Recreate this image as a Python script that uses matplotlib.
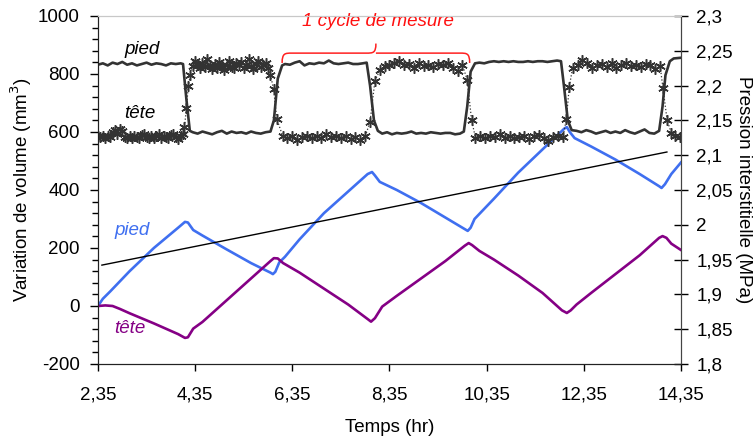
import numpy as np
import matplotlib
matplotlib.use("Agg")
import matplotlib.pyplot as plt
from matplotlib.path import Path
from matplotlib.patches import PathPatch
from matplotlib.ticker import FixedLocator, MultipleLocator

plt.rcParams['font.family'] = ['Liberation Sans', 'DejaVu Sans']

# ---------------- data ----------------
# volume variation (mm3), left axis
pied_t = [2.35, 2.45, 2.6, 3.0, 3.5, 4.0, 4.14, 4.2, 4.31, 4.5, 5.0, 5.5, 5.9, 5.95, 6.0, 6.08, 6.2,
          6.5, 7.0, 7.5, 7.9, 7.99, 8.05, 8.15, 8.5, 9.0, 9.5, 9.9, 9.96, 10.02, 10.1, 10.5, 11.0,
          11.5, 11.95, 12.0, 12.06, 12.16, 12.5, 13.0, 13.5, 13.9, 13.95, 14.02, 14.15, 14.35]
pied_v = [0, 25, 50, 120, 200, 270, 290, 288, 262, 243, 195, 148, 115, 110, 118, 150, 170,
          230, 320, 395, 455, 462, 450, 428, 400, 355, 305, 265, 259, 270, 300, 370, 460,
          540, 612, 617, 600, 579, 550, 505, 455, 413, 407, 420, 455, 495]

tete_t = [2.35, 2.5, 2.65, 2.8, 3.0, 3.5, 4.0, 4.14, 4.2, 4.31, 4.5, 5.0, 5.5, 5.9, 5.97, 6.05,
          6.16, 6.5, 7.0, 7.5, 7.9, 7.97, 8.05, 8.2, 8.5, 9.0, 9.5, 9.9, 9.98, 10.05, 10.2, 10.5,
          11.0, 11.5, 11.9, 12.0, 12.08, 12.2, 12.5, 13.0, 13.5, 13.9, 13.97, 14.05, 14.15, 14.35]
tete_v = [0, 2, 0, -10, -25, -60, -97, -110, -108, -78, -55, 20, 95, 155, 165, 164,
          148, 115, 60, 5, -45, -54, -42, -2, 35, 95, 155, 208, 217, 210, 190, 160,
          105, 45, -15, -24, -15, 5, 45, 110, 175, 235, 241, 235, 215, 193]

trend_t = [2.43, 14.06]
trend_v = [141, 531]

# pore pressure (MPa), right axis - continuous line
press_t = [2.35, 2.45, 2.55, 2.65, 2.75, 2.85, 2.95, 3.05, 3.15, 3.25, 3.35, 3.45, 3.55, 3.65, 3.75,
           3.85, 3.95, 4.05, 4.10, 4.17, 4.24,
           4.30, 4.40, 4.50, 4.60, 4.70, 4.80, 4.90, 5.00, 5.10, 5.20, 5.30, 5.40, 5.50, 5.60, 5.70,
           5.80, 5.90, 5.97, 6.05, 6.14,
           6.20, 6.30, 6.40, 6.50, 6.60, 6.70, 6.80, 6.90, 7.00, 7.10, 7.20, 7.30, 7.40, 7.50, 7.60,
           7.70, 7.80, 7.88, 7.95, 8.03, 8.11,
           8.20, 8.30, 8.40, 8.50, 8.60, 8.70, 8.80, 8.90, 9.00, 9.10, 9.20, 9.30, 9.40, 9.50, 9.60,
           9.70, 9.80, 9.88, 9.95, 10.02, 10.11,
           10.20, 10.30, 10.40, 10.50, 10.60, 10.70, 10.80, 10.90, 11.00, 11.10, 11.20, 11.30, 11.40,
           11.50, 11.60, 11.70, 11.80, 11.88, 11.94, 12.02, 12.10,
           12.20, 12.30, 12.40, 12.50, 12.60, 12.70, 12.80, 12.90, 13.00, 13.10, 13.20, 13.30, 13.40,
           13.50, 13.60, 13.70, 13.80, 13.90, 13.97, 14.03, 14.12, 14.20, 14.35]
press_p = [2.230, 2.232, 2.229, 2.233, 2.231, 2.234, 2.230, 2.232, 2.229, 2.231, 2.233, 2.230, 2.232,
           2.231, 2.229, 2.232, 2.231, 2.232, 2.231, 2.180, 2.135,
           2.133, 2.131, 2.134, 2.132, 2.130, 2.133, 2.135, 2.131, 2.134, 2.132, 2.133, 2.131, 2.134,
           2.132, 2.131, 2.133, 2.134, 2.150, 2.210, 2.229,
           2.231, 2.230, 2.233, 2.235, 2.229, 2.232, 2.231, 2.233, 2.232, 2.236, 2.232, 2.231, 2.232,
           2.233, 2.231, 2.231, 2.232, 2.233, 2.200, 2.150, 2.135,
           2.131, 2.133, 2.130, 2.132, 2.131, 2.132, 2.134, 2.131, 2.132, 2.131, 2.133, 2.132, 2.131,
           2.132, 2.132, 2.130, 2.131, 2.134, 2.170, 2.220, 2.232,
           2.233, 2.232, 2.234, 2.235, 2.234, 2.235, 2.234, 2.235, 2.234, 2.234, 2.235, 2.234, 2.235,
           2.235, 2.234, 2.235, 2.236, 2.235, 2.200, 2.150, 2.136,
           2.135, 2.133, 2.136, 2.134, 2.131, 2.133, 2.135, 2.132, 2.134, 2.132, 2.136, 2.133, 2.131,
           2.134, 2.137, 2.132, 2.131, 2.135, 2.170, 2.215, 2.235, 2.239, 2.240]

# pore pressure (MPa), right axis - measured points (stars)
stars_segments = [
    # (start time, step, values)
    (2.35, 0.05, [2.127, 2.126, 2.128, 2.125, 2.127, 2.126, 2.133, 2.136, 2.131, 2.138, 2.135, 2.126,
                  2.124, 2.127, 2.125, 2.128, 2.126, 2.124, 2.129, 2.131, 2.126, 2.125, 2.128, 2.124,
                  2.127, 2.130, 2.125, 2.128, 2.126, 2.124, 2.129, 2.131, 2.126, 2.123, 2.127, 2.131]),
    (4.13, 0.04, [2.140, 2.168, 2.200, 2.215]),
    (4.30, 0.05, [2.228, 2.236, 2.230, 2.225, 2.233, 2.227, 2.238, 2.229, 2.224, 2.231, 2.226, 2.234,
                  2.228, 2.223, 2.230, 2.236, 2.227, 2.225, 2.232, 2.229, 2.234, 2.226, 2.230, 2.238,
                  2.228, 2.224, 2.231, 2.235, 2.227, 2.229, 2.233, 2.226]),
    (5.90, 0.065, [2.215, 2.195, 2.152]),
    (6.15, 0.10, [2.128, 2.124, 2.127, 2.122, 2.126, 2.128, 2.125, 2.127, 2.124, 2.130, 2.126, 2.128,
                  2.125, 2.127, 2.123, 2.126, 2.122, 2.127]),
    (7.95, 0.10, [2.148, 2.207]),
    (8.15, 0.10, [2.222, 2.228, 2.230, 2.233, 2.236, 2.229, 2.231, 2.226, 2.232, 2.228, 2.230, 2.227,
                  2.231, 2.229, 2.233, 2.226, 2.221, 2.230]),
    (9.95, 0.09, [2.208, 2.150]),
    (10.12, 0.10, [2.125, 2.127, 2.124, 2.128, 2.126, 2.130, 2.125, 2.127, 2.124, 2.126, 2.128, 2.123,
                   2.127, 2.129, 2.125, 2.120, 2.126, 2.128, 2.126]),
    (11.99, 0.06, [2.152, 2.198]),
    (12.12, 0.10, [2.226, 2.230, 2.237, 2.232, 2.225, 2.229, 2.231, 2.227, 2.232, 2.226, 2.229, 2.233,
                   2.228, 2.230, 2.227, 2.231, 2.229, 2.224, 2.228]),
    (13.98, 0.085, [2.196, 2.150, 2.132, 2.128, 2.126]),
]

x_ticks = [2.35, 4.35, 6.35, 8.35, 10.35, 12.35, 14.35]
x_labels = ["2,35", "4,35", "6,35", "8,35", "10,35", "12,35", "14,35"]
yl_ticks = [-200, 0, 200, 400, 600, 800, 1000]
yl_labels = ["-200", "0", "200", "400", "600", "800", "1000"]
yr_ticks = [1.8, 1.85, 1.9, 1.95, 2.0, 2.05, 2.1, 2.15, 2.2, 2.25, 2.3]
yr_labels = ["1,8", "1,85", "1,9", "1,95", "2", "2,05", "2,1", "2,15", "2,2", "2,25", "2,3"]

# brace annotation (cycle), in data units
brace_t0, brace_tm, brace_t1 = 6.14, 8.07, 10.0
brace_v_end, brace_v_bar, brace_v_tip = 838, 872, 905

# ---------------- plot ----------------
BLUE = "#3f6ff0"
PURPLE = "#850085"
DARK = "#333333"
FS = 13.5

fig = plt.figure(figsize=(7.56, 4.37), dpi=100)
ax = fig.add_axes([98 / 756, 1 - 364 / 437, 583 / 756, 348 / 437])
ax2 = ax.twinx()

ax.plot(pied_t, pied_v, color=BLUE, lw=1.9, zorder=3)
ax.plot(tete_t, tete_v, color=PURPLE, lw=1.9, zorder=3)
ax.plot(trend_t, trend_v, color="black", lw=1.0, zorder=3)

ax2.plot(press_t, press_p, color=DARK, lw=1.9, zorder=2)
st_t, st_p = [], []
for t0, dt, vals in stars_segments:
    for i, v in enumerate(vals):
        st_t.append(t0 + i * dt)
        st_p.append(v)
ax2.plot(st_t, st_p, color=DARK, lw=0.9, ls=":", marker=(6, 2, 0), ms=7.5, mew=1.1,
         mec=DARK, zorder=2)

ax.set_xlim(2.35, 14.35)
ax.set_ylim(-200, 1000)
ax2.set_ylim(1.8, 2.3)

ax.xaxis.set_major_locator(FixedLocator(x_ticks))
ax.set_xticklabels(x_labels, fontsize=FS)
ax.yaxis.set_major_locator(FixedLocator(yl_ticks))
ax.set_yticklabels(yl_labels, fontsize=FS)
ax.yaxis.set_minor_locator(MultipleLocator(40))
ax2.yaxis.set_major_locator(FixedLocator(yr_ticks))
ax2.set_yticklabels(yr_labels, fontsize=FS)

ax.tick_params(axis="x", direction="out", length=5, width=1, pad=11)
ax.tick_params(axis="y", which="major", direction="out", length=6, width=1, pad=7)
ax.tick_params(axis="y", which="minor", direction="out", length=4, width=1)
ax2.tick_params(axis="y", direction="inout", length=10, width=1, pad=6)

for a in (ax, ax2):
    a.spines["top"].set_color("#c8c8c8")
    a.spines["left"].set_color("#222222")
    a.spines["bottom"].set_color("#222222")
    a.spines["right"].set_color("#444444")
    a.patch.set_visible(False)

ax.set_xlabel("Temps (hr)", fontsize=FS, labelpad=11)
ax.set_ylabel("Variation de volume (mm$^3$)", fontsize=FS, labelpad=3)
ax2.set_ylabel("Pression interstitielle (MPa)", fontsize=FS, rotation=-90, labelpad=14)

# series labels
ax.text(3.25, 886, "pied", fontsize=FS, style="italic", color="black", ha="center", va="center")
ax.text(3.21, 665, "tête", fontsize=FS, style="italic", color="black", ha="center", va="center")
ax.text(3.05, 262, "pied", fontsize=FS, style="italic", color=BLUE, ha="center", va="center")
ax.text(3.01, -76, "tête", fontsize=FS, style="italic", color=PURPLE, ha="center", va="center")

# brace + cycle label
r = 0.2
verts = [
    (brace_t0, brace_v_end),
    (brace_t0, brace_v_bar), (brace_t0 + r * 0.3, brace_v_bar), (brace_t0 + r, brace_v_bar),
    (brace_tm - r, brace_v_bar),
    (brace_tm - r * 0.3, brace_v_bar), (brace_tm, brace_v_bar), (brace_tm, brace_v_tip),
    (brace_tm, brace_v_bar), (brace_tm + r * 0.3, brace_v_bar), (brace_tm + r, brace_v_bar),
    (brace_t1 - r, brace_v_bar),
    (brace_t1 - r * 0.3, brace_v_bar), (brace_t1, brace_v_bar), (brace_t1, brace_v_end),
]
codes = [Path.MOVETO, Path.CURVE4, Path.CURVE4, Path.CURVE4, Path.LINETO,
         Path.CURVE4, Path.CURVE4, Path.CURVE4,
         Path.MOVETO, Path.CURVE4, Path.CURVE4, Path.LINETO,
         Path.CURVE4, Path.CURVE4, Path.CURVE4]
ax.add_patch(PathPatch(Path(verts, codes), facecolor="none", edgecolor="#ff2020", lw=1.1,
                       zorder=4, clip_on=False))
ax.text(brace_tm + 0.05, 980, "1 cycle de mesure", fontsize=FS, style="italic", color="#ff1010",
        ha="center", va="center")

fig.savefig("out.png", dpi=100)
